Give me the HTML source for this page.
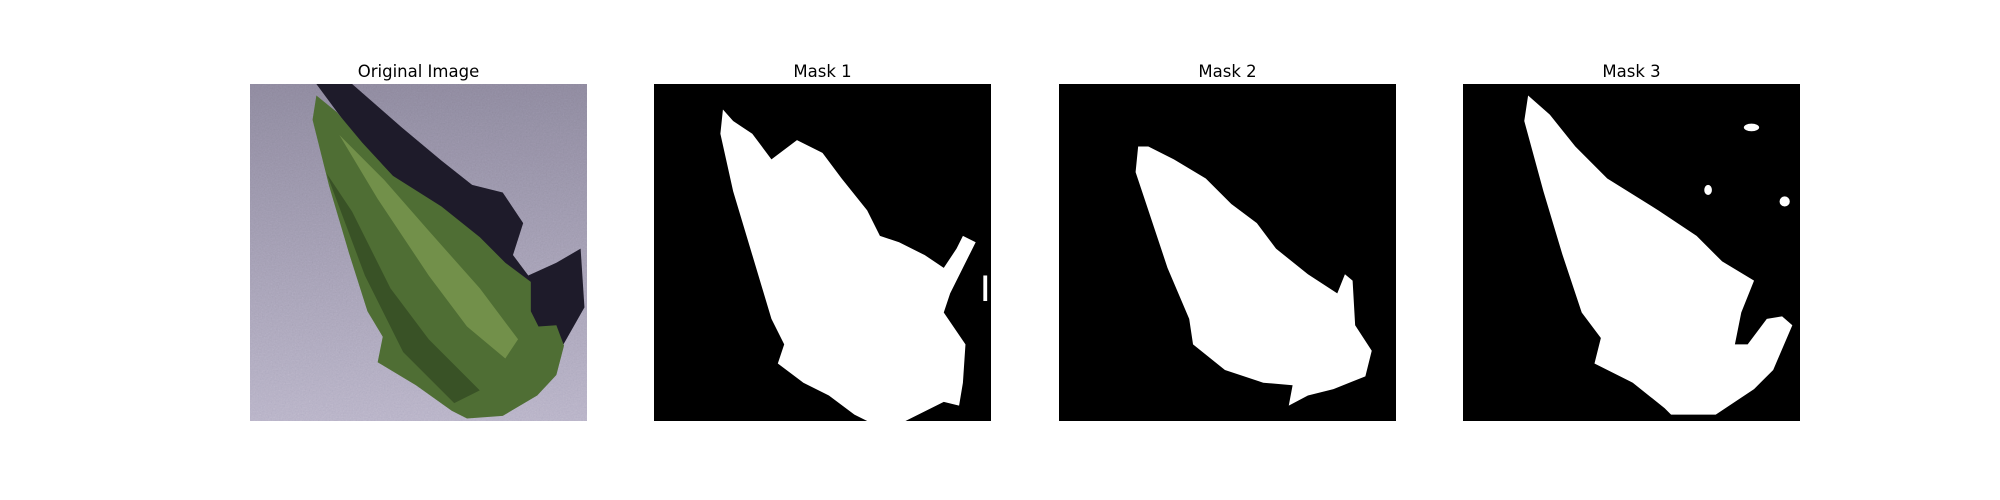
<!DOCTYPE html>
<html><head><meta charset="utf-8"><style>
body{margin:0;width:2000px;height:500px;background:#fff;position:relative;overflow:hidden;font-family:"DejaVu Sans","Liberation Sans",sans-serif}
.t{position:absolute;top:62px;width:337px;text-align:center;font-size:16.5px;color:#000}
svg.p{position:absolute;top:84px;width:337px;height:337px}
</style></head><body>
<div class="t" style="left:250px">Original Image</div>
<div class="t" style="left:654px">Mask 1</div>
<div class="t" style="left:1059px">Mask 2</div>
<div class="t" style="left:1463px">Mask 3</div>

<svg class="p" style="left:250px" viewBox="0 0 264 264" preserveAspectRatio="none">
<defs><linearGradient id="bg" x1="0" y1="0" x2="0" y2="1"><stop offset="0" stop-color="#928da2"/><stop offset="1" stop-color="#bbb6ca"/></linearGradient>
<filter id="n"><feTurbulence type="fractalNoise" baseFrequency="0.9" numOctaves="2" result="t"/><feColorMatrix type="saturate" values="0"/><feComponentTransfer><feFuncA type="linear" slope="0.25"/></feComponentTransfer><feBlend in2="SourceGraphic" mode="overlay"/></filter></defs>
<rect width="264" height="264" fill="url(#bg)" filter="url(#n)"/>
<polygon fill="#1e1b2a" points="52,0 80,0 120,35 150,60 174,79 198,85 214,109 206,134 218,150 240,140 259,129 262,175 245,205 230,215 200,200"/>
<polygon fill="#4f6e34" points="52,9 49,28 62,80 78,134 92,178 104,198 100,218 130,236 158,256 170,262 198,260 225,244 240,228 246,205 240,189 226,190 220,178 220,155 200,140 180,120 150,96 112,72 88,46 68,22"/>
<polygon fill="#8aa65a" opacity="0.6" points="70,40 100,90 140,150 170,190 200,215 210,200 180,160 140,115 105,75"/>
<polygon fill="#2c3f1e" opacity="0.6" points="60,70 90,150 120,210 160,250 180,240 140,200 110,160 80,100"/>
</svg>

<svg class="p" style="left:654px" viewBox="0 0 264 264" preserveAspectRatio="none">
<rect width="264" height="264" fill="#000"/>
<polygon fill="#fff" points="54,20 52,39 62,84 77,134 92,184 102,204 97,219 117,234 137,244 157,259 167,264 197,264 227,249 239,252 242,234 244,204 227,179 232,164 247,134 252,124 242,119 237,129 227,144 212,134 192,124 177,119 167,99 147,74 132,54 112,44 92,59 77,39 62,29"/>
<rect x="258" y="150" width="3" height="20" fill="#fff"/>
</svg>

<svg class="p" style="left:1059px" viewBox="0 0 264 264" preserveAspectRatio="none">
<rect width="264" height="264" fill="#000"/>
<polygon fill="#fff" points="62,49 60,69 75,114 85,144 102,184 105,204 130,224 160,234 183,236 180,252 195,244 215,239 240,229 245,209 232,189 230,154 224,149 218,164 195,149 170,129 155,109 135,94 115,74 90,59 70,49"/>
</svg>

<svg class="p" style="left:1463px" viewBox="0 0 264 264" preserveAspectRatio="none">
<rect width="264" height="264" fill="#000"/>
<polygon fill="#fff" points="51,9 48,29 63,84 78,134 93,179 108,199 103,219 133,234 158,254 163,259 198,259 228,239 243,224 258,189 250,182 238,184 223,204 213,204 218,179 228,154 203,139 183,119 153,99 113,74 88,49 68,24"/>
<ellipse cx="226" cy="34" rx="6" ry="3" fill="#fff"/>
<ellipse cx="192" cy="83" rx="3" ry="4" fill="#fff"/>
<ellipse cx="252" cy="92" rx="4" ry="4" fill="#fff"/>
</svg>
</body></html>
